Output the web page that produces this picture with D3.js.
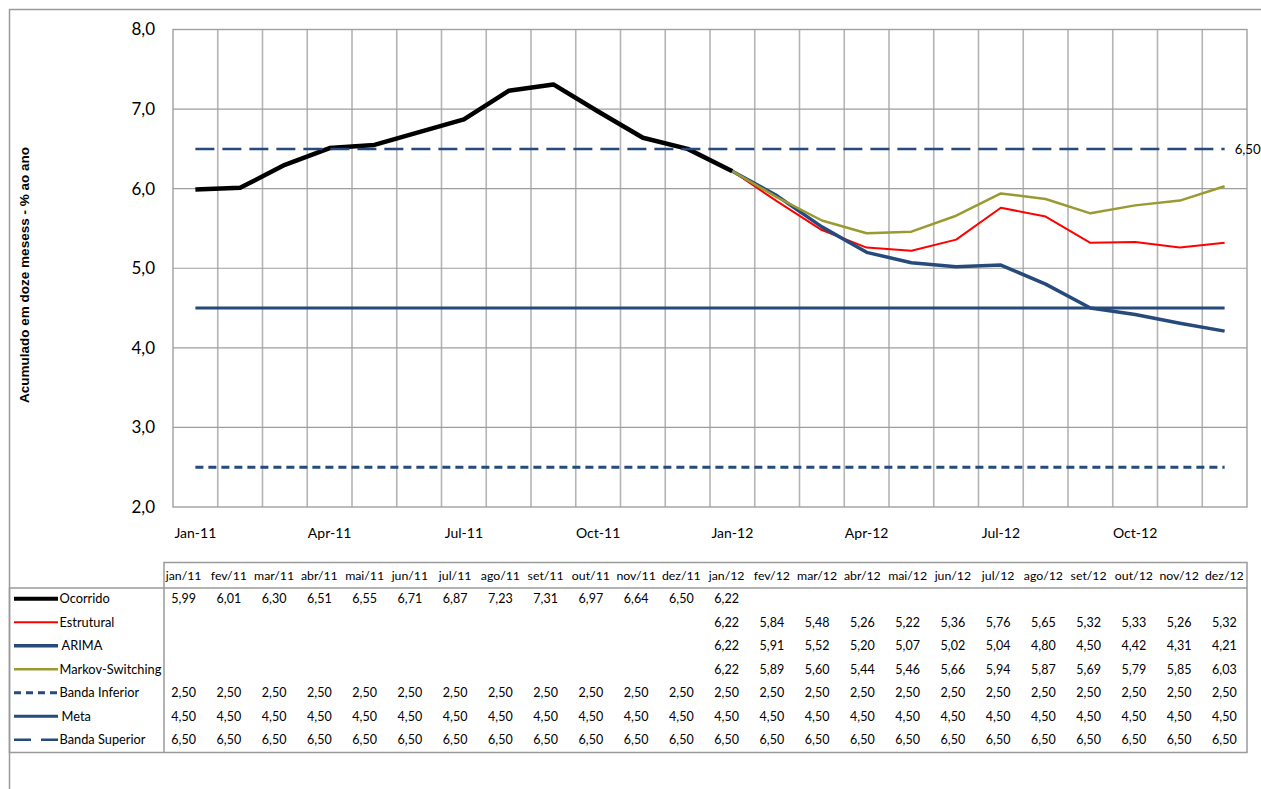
<!DOCTYPE html>
<html><head><meta charset="utf-8">
<script src="https://cdn.jsdelivr.net/npm/d3@7"></script>
<style>
html,body{margin:0;padding:0;background:#fff;}
svg{display:block;font-family:Lato,"Open Sans",sans-serif;}
</style></head><body>
<svg id="c" width="1261" height="789"></svg>
<script>
const categories = ["jan/11","fev/11","mar/11","abr/11","mai/11","jun/11","jul/11","ago/11","set/11","out/11","nov/11","dez/11",
  "jan/12","fev/12","mar/12","abr/12","mai/12","jun/12","jul/12","ago/12","set/12","out/12","nov/12","dez/12"];
const axisTickLabels = ["Jan-11","Apr-11","Jul-11","Oct-11","Jan-12","Apr-12","Jul-12","Oct-12"];
const yTicks = [2,3,4,5,6,7,8];
const ocorrido = [5.99,6.01,6.30,6.51,6.55,6.71,6.87,7.23,7.31,6.97,6.64,6.50,6.22,null,null,null,null,null,null,null,null,null,null,null];
const estrutural = [null,null,null,null,null,null,null,null,null,null,null,null,6.22,5.84,5.48,5.26,5.22,5.36,5.76,5.65,5.32,5.33,5.26,5.32];
const arima = [null,null,null,null,null,null,null,null,null,null,null,null,6.22,5.91,5.52,5.20,5.07,5.02,5.04,4.80,4.50,4.42,4.31,4.21];
const markov = [null,null,null,null,null,null,null,null,null,null,null,null,6.22,5.89,5.60,5.44,5.46,5.66,5.94,5.87,5.69,5.79,5.85,6.03];
const bandaInferior = [2.5,2.5,2.5,2.5,2.5,2.5,2.5,2.5,2.5,2.5,2.5,2.5,2.5,2.5,2.5,2.5,2.5,2.5,2.5,2.5,2.5,2.5,2.5,2.5];
const meta = [4.5,4.5,4.5,4.5,4.5,4.5,4.5,4.5,4.5,4.5,4.5,4.5,4.5,4.5,4.5,4.5,4.5,4.5,4.5,4.5,4.5,4.5,4.5,4.5];
const bandaSuperior = [6.5,6.5,6.5,6.5,6.5,6.5,6.5,6.5,6.5,6.5,6.5,6.5,6.5,6.5,6.5,6.5,6.5,6.5,6.5,6.5,6.5,6.5,6.5,6.5];
const seriesNames = ["Ocorrido","Estrutural","ARIMA","Markov-Switching","Banda Inferior","Meta","Banda Superior"];
const yTitle = "Acumulado em doze mesess - % ao ano";

const series = [
  {name:seriesNames[0], values:ocorrido, color:"#000000", width:4.5, dash:null},
  {name:seriesNames[1], values:estrutural, color:"#ff0000", width:2, dash:null},
  {name:seriesNames[2], values:arima, color:"#264a7c", width:3.5, dash:null},
  {name:seriesNames[3], values:markov, color:"#9a9a32", width:2.5, dash:null},
  {name:seriesNames[4], values:bandaInferior, color:"#264a7c", width:3, dash:"8,5"},
  {name:seriesNames[5], values:meta, color:"#264a7c", width:3, dash:null},
  {name:seriesNames[6], values:bandaSuperior, color:"#264a7c", width:2.5, dash:"19,8"}
];

const svg = d3.select("#c");
const loc = d3.formatLocale({decimal:",",thousands:".",grouping:[3],currency:["",""]});
const fmt2 = loc.format(".2f");
const fmt1 = loc.format(".1f");

const L=173, R=1247, T=29.5, B=507;
const x = d3.scaleBand().domain(categories).range([L,R]);
const y = d3.scaleLinear().domain([2,8]).range([B,T]);
const cx = d => x(d)+x.bandwidth()/2;

// outer frame
svg.append("path").attr("d",`M9.5,789 V9.5 H1261`).attr("fill","none").attr("stroke","#9a9a9a").attr("stroke-width",1.5);

// grid
const g = svg.append("g");
g.selectAll(".vg").data(categories.slice(1)).join("line")
  .attr("x1",d=>x(d)).attr("x2",d=>x(d)).attr("y1",T).attr("y2",B)
  .attr("stroke","#b4b4b4").attr("stroke-width",1.6);
g.selectAll(".hg").data(yTicks.slice(1,-1)).join("line")
  .attr("x1",L).attr("x2",R).attr("y1",d=>y(d)).attr("y2",d=>y(d))
  .attr("stroke","#9e9e9e").attr("stroke-width",1.2);
g.append("rect").attr("x",L).attr("y",T).attr("width",R-L).attr("height",B-T)
  .attr("fill","none").attr("stroke","#a0a0a0").attr("stroke-width",1.4);

// y axis labels
const yAxis = d3.axisLeft(y).tickValues(yTicks).tickFormat(fmt1).tickSize(0).tickPadding(18);
const ya = svg.append("g").attr("transform",`translate(${L},0)`).call(yAxis);
ya.select(".domain").remove();
ya.selectAll("text").attr("font-size",17).attr("fill","#000").attr("font-family","Lato,sans-serif");

// x axis labels
const xAxis = d3.axisBottom(x).tickValues(categories.filter((c,i)=>i%3===0)).tickFormat((d,i)=>axisTickLabels[i]).tickSize(0).tickPadding(21);
const xa = svg.append("g").attr("transform",`translate(0,${B})`).call(xAxis);
xa.select(".domain").remove();
xa.selectAll("text").attr("font-size",14).attr("fill","#000").attr("font-family","Lato,sans-serif");

// y title
svg.append("text").attr("transform","translate(29,275) rotate(-90)").attr("text-anchor","middle")
  .attr("font-size",13.5).attr("font-weight","bold").attr("font-family","'Liberation Sans',Arial,sans-serif").text(yTitle);

// lines
const line = d3.line().defined(d=>d.v!=null).x(d=>cx(d.c)).y(d=>y(d.v));
series.forEach(s=>{
  const pts = categories.map((c,i)=>({c, v:s.values[i]}));
  svg.append("path").datum(pts).attr("d",line).attr("fill","none")
    .attr("stroke",s.color).attr("stroke-width",s.width).attr("stroke-linejoin","round")
    .attr("stroke-dasharray",s.dash);
});
// label at end of Banda Superior
svg.append("text").attr("x",cx(categories[23])+10).attr("y",y(bandaSuperior[23])).attr("dy","0.35em")
  .attr("font-size",13.3).attr("font-family","Lato,sans-serif").text(fmt2(bandaSuperior[23]));

// data table
const tT=562.5, tH=588, tB=752.5, tL=9.5, tC=164, tR=1247;
const rowY = d3.scaleBand().domain(seriesNames).range([tH,tB]);
const colX = d3.scaleBand().domain(categories).range([161,1247]);
const tg = svg.append("g").attr("fill","none").attr("stroke","#9a9a9a").attr("stroke-width",1.5);
tg.append("path").attr("d",`M${tC},${tB} V${tT} H${tR} V${tB} H${tL} V${tH} H${tR}`);

svg.append("g").selectAll("text").data(categories).join("text")
  .attr("x",d=>colX(d)+colX.bandwidth()/2).attr("y",(tT+tH)/2).attr("dy","0.35em")
  .attr("text-anchor","middle").attr("font-size",12.3).text(d=>d);

series.forEach(s=>{
  const yy = rowY(s.name)+rowY.bandwidth()/2 - 1;
  const rg = svg.append("g");
  rg.selectAll("text").data(categories.map((c,i)=>({c,v:s.values[i]})).filter(d=>d.v!=null)).join("text")
    .attr("x",d=>colX(d.c)+colX.bandwidth()/2).attr("y",yy).attr("dy","0.35em")
    .attr("text-anchor","middle").attr("font-size",12.5).text(d=>fmt2(d.v));
  // legend key
  rg.append("line").attr("x1",14).attr("x2",58).attr("y1",yy).attr("y2",yy)
    .attr("stroke",s.color).attr("stroke-width",s.width===4.5?4:Math.min(s.width,3.5))
    .attr("stroke-dasharray",s.dash==="8,5"?"7,5":(s.dash?"17,10":null));
  rg.append("text").attr("x",(s.name==="ARIMA"||s.name==="Meta")?61.5:59.5).attr("y",yy).attr("dy","0.35em")
    .attr("font-size",12.8).text(s.name);
});
</script>
</body></html>
